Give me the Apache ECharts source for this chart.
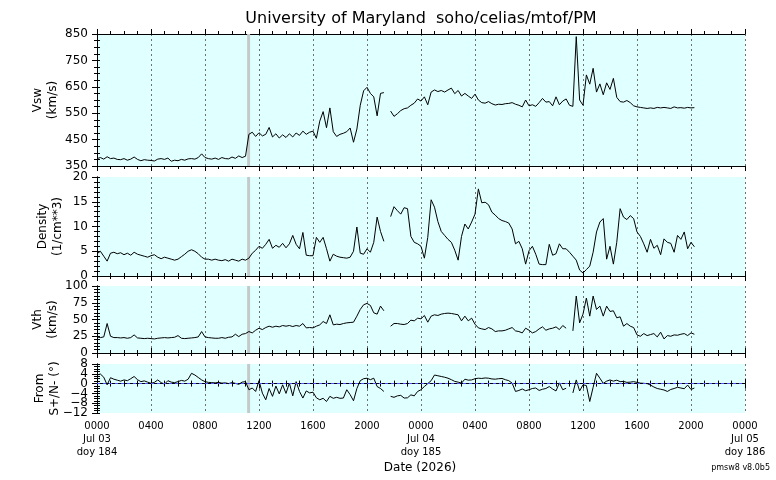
<!DOCTYPE html>
<html><head><meta charset="utf-8">
<script src="https://cdn.jsdelivr.net/npm/echarts@6/dist/echarts.min.js"></script>
<style>html,body{margin:0;padding:0;background:#fff}#c{width:776px;height:480px}</style>
</head><body><div id="c"></div>
<script>
// ---- data: samples every 15 min, starting 2026-07-03 00:00 (hours since start) ----
const STEP_HOURS = 0.25;
const vsw = [
 378,382,376,385,378,380,375,374, 378,372,376,384,375,370,374,372,
 371,369,376,378,375,380,368,372, 370,375,372,377,378,376,382,396,
 382,378,376,380,375,382,378,377, 384,379,388,382,387,470,478,462,
 476,464,470,496,460,472,456,468, 458,472,460,475,466,482,470,478,
 482,455,520,556,495,570,480,462, 470,474,480,494,440,490,580,635,
 648,625,612,540,625,628,null,558, 538,548,560,567,570,580,588,604,
 596,612,582,630,638,632,636,630, 638,645,624,636,615,625,615,606,
 622,600,590,588,594,586,581,584, 583,586,587,590,584,580,574,600,
 578,582,576,590,606,592,594,578, 612,582,596,604,580,576,840,600,
 580,695,660,720,630,661,620,665, 640,682,610,594,592,598,590,578,
 574,572,570,568,570,568,572,570, 572,570,568,574,570,571,569,572,
 570,571
];
const density = [
 4.5,5.0,4.0,3.0,4.6,4.8,4.5,4.7, 4.3,4.6,4.2,4.8,4.4,4.2,4.0,3.8,
 4.1,4.3,3.8,3.5,3.8,3.6,3.4,3.2, 3.4,3.9,4.4,5.0,5.3,5.0,4.5,3.8,
 3.4,3.4,3.2,3.4,3.2,3.1,3.3,3.0, 3.4,3.2,3.0,3.4,3.2,3.6,4.6,5.2,
 6.0,5.6,6.4,7.4,5.6,6.2,5.8,6.6, 5.7,6.5,8.2,6.4,5.5,8.8,4.2,4.1,
 4.1,7.8,6.8,7.8,5.5,3.0,4.4,4.0, 3.8,3.7,3.6,3.8,5.0,9.9,4.6,4.4,
 5.5,4.8,6.8,11.9,9.0,7.0,null,12.0, 14.0,13.2,12.5,13.8,13.6,8.0,6.8,6.5,
 6.0,3.6,7.8,15.4,13.9,11.0,9.0,8.2, 7.4,6.8,5.2,3.2,8.0,10.5,9.5,10.9,
 12.5,17.6,14.8,14.9,14.4,12.9,12.3,11.6, 11.2,11.0,10.7,9.5,6.5,7.0,5.5,2.4,
 5.1,6.0,4.4,2.4,2.3,2.3,6.4,4.2, 4.5,6.5,5.5,5.5,4.8,4.0,3.2,1.2,
 0.6,1.3,2.0,4.8,8.9,10.9,11.6,3.4, 6.0,2.4,6.8,13.6,11.9,11.4,12.2,11.6,
 8.9,8.0,6.5,4.8,7.4,5.6,6.2,4.3, 7.5,6.8,6.6,4.8,8.2,7.4,8.9,5.5,
 6.8,5.9
];
const vth = [
 24,23,24,44,25,23,23,22.5, 23,22,23,27,22.5,22,21.5,22,
 21.5,21,22,22.5,23,22.5,23,23.5, 26,22,21.5,22,22.5,23,24,32,
 24,23,22.5,22,22,23,22,23.5, 24,28,24.5,28,29,32,30,34,
 37,35,38,40,38.5,40,39,41, 40,41,39.5,41,40,44,37.5,38,
 37.5,40,42,47,44,57,42,43, 42.5,44,45,45.5,46,55,65,72,
 74,71,60,58,70,63,null,40, 44,44,43,42.5,44,49,48,52,
 51,56,46,55,57,56,58,59, 59.5,59,58,57,48,55,48,52,
 43,37.5,36,35,38,36,32,33, 33,34,36,38,33,32,30,37,
 34,30,32,36,39,34,36,37, 39,35,41,37,null,33,85,45,
 58,82,55,85,65,70,55,70, 62,63,52.5,54,40,44,40,38,
 27,25,29,26,27.5,29,24,31, 21,26,25,27,26.5,28,29,26,
 30,28
];
const fromAngle = [
 3.5,3.9,2.6,-0.5,2.4,1.8,1.4,1.0, 1.5,1.2,2.0,2.9,1.6,0.8,1.1,0.6,
 0.1,0.5,1.5,0.4,-0.2,1.2,0.6,0.4, 0.8,1.3,1.0,1.8,4.2,3.5,2.5,1.5,
 0.8,0.5,0.4,0.3,0.5,0.2,0.3,0.0, 0.4,0.1,-0.3,0.6,0.8,-2.5,-1.8,-3.2,
 1.2,-3.9,-6.6,-2.0,-5.2,-1.0,-4.2,-0.5, -4.0,0.2,-5.0,0.8,-3.2,-5.9,-3.0,-3.8,
 -3.5,-5.8,-6.6,-6.0,-7.3,-5.2,-6.0,-5.6, -6.0,-5.9,-2.5,-4.5,-7.0,-2.0,1.2,2.0,
 2.2,1.6,2.2,-1.2,-2.0,-3.2,null,-5.2, -5.6,-5.0,-4.8,-5.9,-5.8,-4.6,-5.0,-3.2,
 -2.5,-1.2,0.0,1.2,3.5,3.2,2.9,2.6, 2.2,1.6,0.9,0.6,0.2,1.8,1.4,1.5,
 2.0,2.2,2.1,2.3,2.2,1.9,1.8,2.0, 2.1,1.6,1.2,0.2,-3.2,-2.8,-2.2,-2.9,
 -2.5,-2.0,-1.8,-2.8,-2.3,-2.0,-1.2,-2.2, -3.0,0.3,-2.5,-1.9,null,-3.8,1.5,-3.0,
 -0.5,-0.8,-7.3,-1.5,4.2,2.2,0.1,1.0, 1.5,1.0,1.4,0.8,0.9,0.5,0.6,0.8,
 0.5,0.2,0.1,0.0,-0.6,-1.4,-2.0,-2.3, -2.6,-3.2,-2.4,-2.0,-1.5,-1.8,-2.1,-0.6,
 -2.4,-1.8
];
// instrument marker interval, hours
const BAR_START = 11.12, BAR_END = 11.34;
// tick labels
const xTickLabels = ['0000\nJul 03\ndoy 184','0400','0800','1200','1600','2000',
  '0000\nJul 04\ndoy 185','0400','0800','1200','1600','2000','0000\nJul 05\ndoy 186'];
const vswTicks = [350,450,550,650,750,850];
const densityTicks = [0,5,10,15,20];
const vthTicks = [0,25,50,75,100];
const fromTicks = [-12,-8,-4,0,4,8];
const yNames = ['Vsw\n(km/s)','Density\n(1/cm**3)','Vth\n(km/s)','From\nS+/N- (\u00b0)'];
const titleText = 'University of Maryland  soho/celias/mtof/PM';
const xTitle = 'Date (2026)';
const versionText = 'pmsw8 v8.0b5';

// ---- layout ----
const FONT = 'DejaVu Sans';
const LEFT = 97, WIDTH = 648;
const panels = [
  {top:34,  h:132, min:350, max:850, major:100, minor:25, gap:37, ticks:vswTicks,     data:vsw},
  {top:177, h:99,  min:0,   max:20,  major:5,   minor:1,  gap:32, ticks:densityTicks, data:density},
  {top:286, h:67,  min:0,   max:100, major:25,  minor:5,  gap:37, ticks:vthTicks,     data:vth},
  {top:364, h:49,  min:-12, max:8,   major:4,   minor:1,  gap:35, ticks:fromTicks,    data:fromAngle},
];
const black = '#000';
const fmt = (v) => String(v).replace('-', '\u2212');
const labelStyle = {show:true, margin:9, fontFamily:FONT, fontSize:12, lineHeight:12, color:black,
  showMinLabel:true, showMaxLabel:true, hideOverlap:false, formatter:fmt};
// the dense From labels are split over two label axes (alternate ticks)
const fromTicksA = fromTicks.filter((v, k) => k % 2 === 0);
const fromTicksB = fromTicks.filter((v, k) => k % 2 === 1);

const grid = [], xAxis = [], yAxis = [], series = [];
panels.forEach((p, i) => {
  grid.push({left:LEFT, top:p.top, width:WIDTH, height:p.h, show:true,
    backgroundColor:'#e0ffff', borderWidth:0, containLabel:false});
  const xCommon = {type:'value', gridIndex:i, min:0, max:48, interval:4,
    axisLine:{show:true, lineStyle:{color:black, width:1}},
    axisTick:{show:true, length:5, lineStyle:{color:black}},
    minorTick:{show:true, splitNumber:4, length:3, lineStyle:{color:black}},
    minorSplitLine:{show:false}};
  xAxis.push(Object.assign({}, xCommon, {position:'bottom',
    splitLine:{show:true, lineStyle:{color:'#707070', type:[2,3], width:1}},
    axisLabel:{show:i===3, margin:7, fontFamily:FONT, fontSize:10, lineHeight:13, color:black,
      showMinLabel:true, showMaxLabel:true, hideOverlap:false,
      formatter:(v)=>xTickLabels[Math.round(v/4)] || ''}}));
  xAxis.push(Object.assign({}, xCommon, {position:'top', splitLine:{show:false}, axisLabel:{show:false}}));
  const isVsw = (i === 0);
  yAxis.push({type:'value', gridIndex:i, position:'left', min:p.min, max:p.max,
    interval: isVsw ? p.minor : p.major,
    name:yNames[i], nameLocation:'middle', nameRotate:90, nameGap:p.gap, nameMoveOverlap:false,
    nameTextStyle:{fontFamily:FONT, fontSize:12, lineHeight:15, color:black},
    axisLine:{show:true, lineStyle:{color:black, width:1}},
    axisTick: isVsw ? {show:true, length:5, customValues:p.ticks, lineStyle:{color:black}}
                    : {show:true, length:5, lineStyle:{color:black}},
    minorTick:{show:!isVsw, splitNumber:Math.round(p.major/p.minor), length:3, lineStyle:{color:black}},
    splitLine:{show:false},
    axisLabel:Object.assign({}, labelStyle, {customValues: i === 3 ? fromTicksA : p.ticks})});
  yAxis.push({type:'value', gridIndex:i, position:'right', min:p.min, max:p.max,
    interval: isVsw ? p.minor : p.major,
    axisLine:{show:true, lineStyle:{color:black, width:1}},
    axisTick:{show:true, length:3, lineStyle:{color:black}},
    minorTick:{show:!isVsw, splitNumber:Math.round(p.major/p.minor), length:3, lineStyle:{color:black}},
    splitLine:{show:false}, axisLabel:{show:false}});
  const s = {type:'line', xAxisIndex:2*i, yAxisIndex:2*i,
    data:p.data.map((v, k) => [k*STEP_HOURS, v]),
    showSymbol:false, symbol:'none', connectNulls:false,
    lineStyle:{color:black, width:1}, itemStyle:{color:black},
    z:3,
    markArea:{silent:true, itemStyle:{color:'#c4caca'}, data:[[{xAxis:BAR_START},{xAxis:BAR_END}]]}};
  if (i === 3) {
    s.markLine = {silent:true, symbol:'none', label:{show:false},
      lineStyle:{color:'#5050ff', type:[3,3], width:1}, data:[{yAxis:0}]};
  }
  series.push(s);
});
// overlay grid 4: minor ticks on the left of the Vsw panel
grid.push({left:LEFT, top:panels[0].top, width:WIDTH, height:panels[0].h, show:false});
xAxis.push({type:'value', gridIndex:4, min:0, max:48, show:false});
yAxis.push({type:'value', gridIndex:4, position:'left', min:350, max:850, interval:25,
  axisLine:{show:false}, axisTick:{show:true, length:3, lineStyle:{color:black}},
  axisLabel:{show:false}, splitLine:{show:false}});
// overlay grid 5: remaining labels of the From panel
grid.push({left:LEFT, top:panels[3].top, width:WIDTH, height:panels[3].h, show:false});
xAxis.push({type:'value', gridIndex:5, min:0, max:48, show:false});
yAxis.push({type:'value', gridIndex:5, position:'left', min:-12, max:8, interval:4,
  axisLine:{show:false}, axisTick:{show:false}, splitLine:{show:false},
  axisLabel:Object.assign({}, labelStyle, {customValues:fromTicksB})});

const option = {
  animation:false,
  backgroundColor:'#fff',
  grid, xAxis, yAxis, series,
  graphic:[
    {type:'text', x:421, y:19, style:{text:titleText, font:'16px "DejaVu Sans"', fill:black, align:'center', verticalAlign:'middle'}},
    {type:'text', x:420, y:468, style:{text:xTitle, font:'12px "DejaVu Sans"', fill:black, align:'center', verticalAlign:'middle'}},
    {type:'text', x:770, y:468, style:{text:versionText, font:'8px "DejaVu Sans"', fill:black, align:'right', verticalAlign:'middle'}}
  ]
};
const chart = echarts.init(document.getElementById('c'));
chart.setOption(option);
</script></body></html>
